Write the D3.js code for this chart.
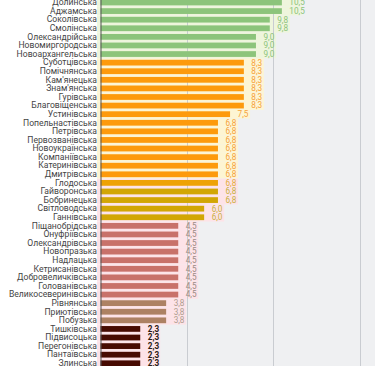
<!DOCTYPE html>
<html>
<head>
<meta charset="utf-8">
<script src="https://cdn.jsdelivr.net/npm/d3@7"></script>
<style>
  html, body { margin: 0; padding: 0; background: #fff; }
  svg { display: block; font-family: Roboto, "Open Sans", sans-serif; }
</style>
</head>
<body>
<div id="chart"></div>
<script>
// data
const names = ["Долинська","Аджамська","Соколівська","Смолінська","Олександрійська",
  "Новомиргородська","Новоархангельська","Суботцівська","Помічнянська","Кам'янецька",
  "Знам'янська","Гурівська","Благовіщенська","Устинівська","Попельнастівська",
  "Петрівська","Первозванівська","Новоукраїнська","Компаніївська","Катеринівська",
  "Дмитрівська","Глодоська","Гайворонська","Бобринецька","Світловодська","Ганнівська",
  "Піщанобрідська","Онуфріївська","Олександрівська","Новопразька","Надлацька",
  "Кетрисанівська","Добровеличківська","Голованівська","Великосеверинівська",
  "Рівнянська","Приютівська","Побузька","Тишківська","Підвисоцька","Перегонівська",
  "Пантаївська","Злинська"];

const values = [10.5,10.5,9.8,9.8,9.0,9.0,9.0,8.3,8.3,8.3,8.3,8.3,8.3,7.5,6.8,
  6.8,6.8,6.8,6.8,6.8,6.8,6.8,6.8,6.8,6.0,6.0,4.5,4.5,4.5,4.5,4.5,4.5,4.5,4.5,4.5,
  3.8,3.8,3.8,2.3,2.3,2.3,2.3,2.3];

const tiers = ["g","g","g","g","g","g","g","o","o","o","o","o","o","o","o",
  "o","o","o","o","o","o","m","y","y","y","y","r","r","r","r","r","r","r","r","r",
  "b","b","b","d","d","d","d","d"];

const ticks = [5, 10, 15];

// styles per tier
const barColor = {g:"#8cc47b", o:"#fd9a0c", m:"#eea204", y:"#d2a604", r:"#c8716a", b:"#ad8163", d:"#470b02"};
const labColor = {g:"#8cc47b", o:"#f6a23a", m:"#e3ac3a", y:"#c8b040", r:"#9c8c84", b:"#b09e90", d:"#2a1a14"};
const tint = {g:"#eef5dc", o:"#fdf5d3", m:"#fde3e8", y:"#fde3e8", r:"#fde3e8", b:"#fde3e8", d:"#fde3e8"};

const rows = names.map((n, i) => ({name: n, value: values[i], tier: tiers[i]}));

const W = 375, H = 366;
const step = 8.59;

const svg = d3.select("#chart").append("svg")
  .attr("width", W).attr("height", H);

const x = d3.scaleLinear().domain([0, 15]).range([100.5, 359.6]);
const y = d3.scaleBand()
  .domain(names)
  .range([2.5 - step / 2, 2.5 - step / 2 + step * names.length])
  .paddingInner(0.33).paddingOuter(0.165);

const fmt = v => d3.format(".1f")(v).replace(".", ",");

// plot background
svg.append("rect").attr("x", x(0)).attr("y", 0)
  .attr("width", W - x(0)).attr("height", H).attr("fill", "#eff0f2");

// row tints
svg.append("g").selectAll("rect").data(rows).join("rect")
  .attr("x", x(0) - 3.5)
  .attr("y", d => y(d.name) - (step - y.bandwidth()) / 2)
  .attr("width", d => x(d.value) - x(0) + 3.5 + 20)
  .attr("height", step)
  .attr("fill", d => tint[d.tier]);

// gridlines
svg.append("g").selectAll("line").data(ticks).join("line")
  .attr("x1", d => Math.round(x(d)) + 0.5).attr("x2", d => Math.round(x(d)) + 0.5)
  .attr("y1", 0).attr("y2", H)
  .attr("stroke", "#c9ccd1").attr("stroke-width", 1);

// bars
svg.append("g").selectAll("rect").data(rows).join("rect")
  .attr("x", x(0))
  .attr("y", d => y(d.name))
  .attr("width", d => x(d.value) - x(0))
  .attr("height", y.bandwidth())
  .attr("fill", d => barColor[d.tier]);

// value labels
svg.append("g").selectAll("text").data(rows).join("text")
  .attr("x", d => x(d.value) + 7.5)
  .attr("y", d => y(d.name) + y.bandwidth() / 2)
  .attr("dy", "0.35em")
  .attr("font-size", 8.2)
  .attr("font-weight", d => d.tier === "d" ? 700 : 400)
  .attr("fill", d => labColor[d.tier])
  .text(d => fmt(d.value));

// y axis
const yAxis = svg.append("g")
  .attr("transform", `translate(${x(0)},0)`)
  .call(d3.axisLeft(y).tickSize(0).tickPadding(3.5));
yAxis.select(".domain").attr("stroke", "#555").attr("d", `M0.5,0V${H}`);
yAxis.selectAll("text")
  .attr("font-size", 8.6)
  .attr("font-family", "Roboto, sans-serif")
  .attr("fill", "#444");
</script>
</body>
</html>
